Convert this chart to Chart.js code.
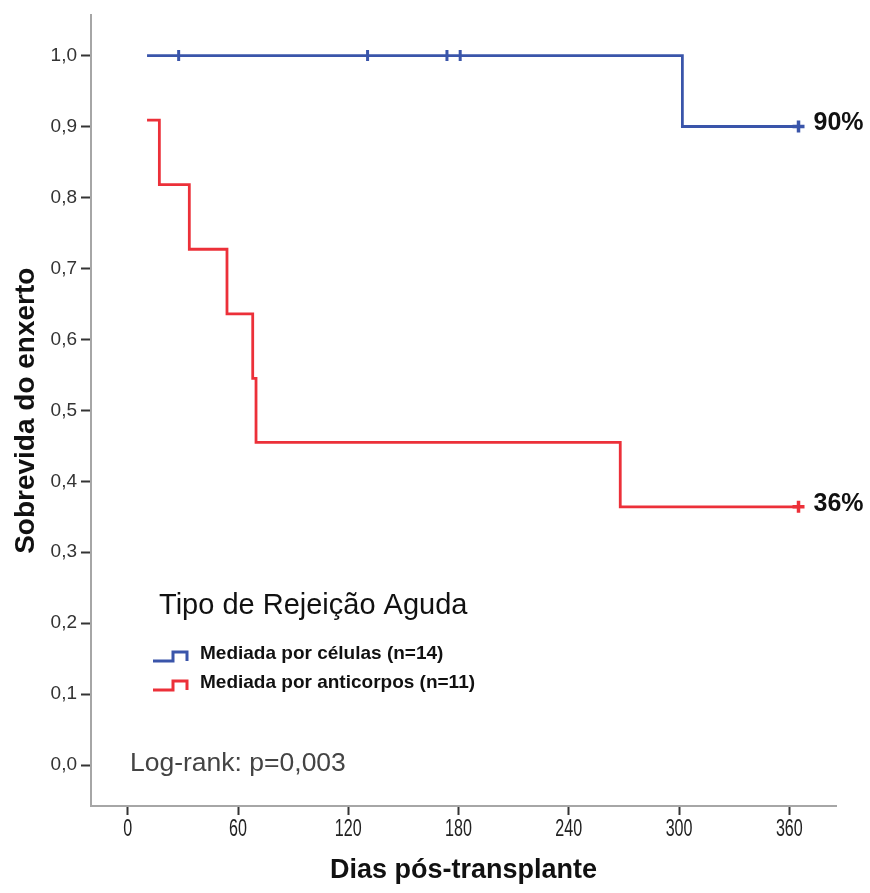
<!DOCTYPE html>
<html>
<head>
<meta charset="utf-8">
<script src="https://cdn.jsdelivr.net/npm/chart.js@4"></script>
<style>
  html, body { margin: 0; padding: 0; background: #fff; }
  #wrap { width: 870px; height: 893px; }
</style>
</head>
<body>
<div id="wrap"><canvas id="km" width="870" height="893"></canvas></div>
<script>
// curve data (days, survival)
const seriesNames = ['Mediada por células (n=14)', 'Mediada por anticorpos (n=11)'];
const seriesColors = ['#3a55aa', '#ec3039'];

const celDays = [10.5, 301.8, 365];
const celSurv = [1.0, 0.9, 0.9];
const celCensorDays = [27.7, 130.5, 173.7, 180.9];
const celCensorSurv = [1.0, 1.0, 1.0, 1.0];

const antDays = [10.5, 17.2, 33.5, 54, 68, 69.8, 268, 365];
const antSurv = [0.909, 0.818, 0.727, 0.636, 0.545, 0.455, 0.364, 0.364];

const endDays = [365, 365];
const endSurv = [0.9, 0.364];
const endLabels = ['90%', '36%'];

const xTicks = [0, 60, 120, 180, 240, 300, 360];
const yTicks = [0, 0.1, 0.2, 0.3, 0.4, 0.5, 0.6, 0.7, 0.8, 0.9, 1.0];

const legendTitle = 'Tipo de Rejeição Aguda';
const logRankText = 'Log-rank: p=0,003';

(function () {
  function pts(xs, ys) {
    return xs.map((x, i) => ({ x: x, y: ys[i] }));
  }

  const overlay = {
    id: 'overlay',
    afterDraw(chart) {
      const ctx = chart.ctx;
      const xs = chart.scales.x;
      const ys = chart.scales.y;
      ctx.save();
      ctx.textBaseline = 'middle';

      // x tick labels, condensed like the original
      ctx.fillStyle = '#222';
      ctx.font = '23px Arial, "Liberation Sans", sans-serif';
      ctx.textAlign = 'center';
      xTicks.forEach((v) => {
        const px = xs.getPixelForValue(v);
        ctx.save();
        ctx.translate(px, 830);
        ctx.scale(0.7, 1);
        ctx.fillText(String(v), 0, 0);
        ctx.restore();
      });

      // end percentages
      ctx.fillStyle = '#111';
      ctx.textAlign = 'left';
      ctx.font = 'bold 25px Arial, "Liberation Sans", sans-serif';
      endLabels.forEach((t, i) => {
        ctx.fillText(t, xs.getPixelForValue(endDays[i]) + 15, ys.getPixelForValue(endSurv[i]) - 3);
      });

      // legend
      ctx.fillStyle = '#111';
      ctx.font = '29px Arial, "Liberation Sans", sans-serif';
      ctx.fillText(legendTitle, 159, 606);
      ctx.font = 'bold 19px Arial, "Liberation Sans", sans-serif';
      seriesNames.forEach((name, i) => {
        const y = 654 + i * 29;
        ctx.strokeStyle = seriesColors[i];
        ctx.lineWidth = 3;
        ctx.beginPath();
        ctx.moveTo(153, y + 7);
        ctx.lineTo(173, y + 7);
        ctx.lineTo(173, y - 2);
        ctx.lineTo(187, y - 2);
        ctx.lineTo(187, y + 7);
        ctx.stroke();
        ctx.fillStyle = '#111';
        ctx.fillText(name, 200, y);
      });

      ctx.fillStyle = '#444';
      ctx.font = '26.5px Arial, "Liberation Sans", sans-serif';
      ctx.fillText(logRankText, 130, 764);
      ctx.restore();
    },
  };

  const ctx = document.getElementById('km').getContext('2d');
  new Chart(ctx, {
    type: 'line',
    data: {
      datasets: [
        {
          data: pts(celDays, celSurv),
          borderColor: seriesColors[0],
          borderWidth: 2.8,
          stepped: true,
          pointRadius: 0,
          fill: false,
        },
        {
          data: pts(antDays, antSurv),
          borderColor: seriesColors[1],
          borderWidth: 2.8,
          stepped: true,
          pointRadius: 0,
          fill: false,
        },
        {
          data: pts(celCensorDays, celCensorSurv),
          showLine: false,
          pointStyle: 'line',
          rotation: 90,
          pointRadius: 5.5,
          borderColor: seriesColors[0],
          pointBorderWidth: 3,
        },
        {
          data: pts(endDays, endSurv),
          showLine: false,
          pointStyle: 'cross',
          pointRadius: 6,
          borderColor: seriesColors,
          pointBorderColor: seriesColors,
          pointBorderWidth: 3.5,
        },
      ],
    },
    options: {
      responsive: false,
      animation: false,
      layout: { padding: { top: 13, right: 34, left: 0, bottom: 0 } },
      plugins: { legend: { display: false }, tooltip: { enabled: false } },
      scales: {
        x: {
          type: 'linear',
          min: -20,
          max: 385.4,
          afterFit: (s) => { s.height = 87; },
          afterBuildTicks: (s) => { s.ticks = xTicks.map((v) => ({ value: v })); },
          grid: { drawOnChartArea: false, tickLength: 9, tickColor: '#333', tickWidth: 2 },
          border: { color: '#a6a6a6', width: 2 },
          ticks: { display: false },
          title: {
            display: true,
            text: 'Dias pós-transplante',
            color: '#111',
            font: { family: 'Arial, "Liberation Sans"', size: 27, weight: 'bold' },
            padding: { top: 0, bottom: 6 },
          },
        },
        y: {
          min: -0.0576,
          max: 1.0566,
          afterFit: (s) => { s.width = 91; },
          afterBuildTicks: (s) => { s.ticks = yTicks.map((v) => ({ value: v })); },
          grid: { drawOnChartArea: false, tickLength: 10, tickColor: '#333', tickWidth: 2 },
          border: { color: '#a6a6a6', width: 2 },
          ticks: {
            padding: 4,
            color: '#333',
            font: { family: 'Arial, "Liberation Sans"', size: 19 },
            callback: (v) => Number(v).toFixed(1).replace('.', ','),
          },
          title: {
            display: true,
            text: 'Sobrevida do enxerto',
            color: '#111',
            font: { family: 'Arial, "Liberation Sans"', size: 28, weight: 'bold' },
            padding: { top: 9, bottom: 0 },
          },
        },
      },
    },
    plugins: [overlay],
  });
})();
</script>
</body>
</html>
